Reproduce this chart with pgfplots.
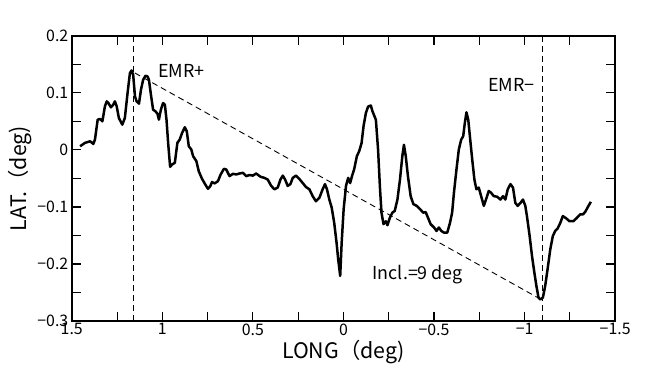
\documentclass[border=0pt]{standalone}
\usepackage{fontspec}
\setmainfont{Noto Sans CJK JP}
\usepackage{pgfplots}
\pgfplotsset{compat=1.18}

\pgfplotstableread{
x y
1.454 0.0065
1.427 0.0124
1.399 0.0152
1.381 0.0106
1.372 0.0182
1.357 0.0531
1.344 0.0543
1.331 0.0502
1.317 0.0765
1.307 0.0852
1.298 0.0823
1.284 0.0747
1.271 0.0794
1.262 0.0852
1.252 0.0765
1.240 0.0560
1.221 0.0444
1.207 0.0560
1.192 0.0997
1.179 0.1347
1.170 0.1394
1.161 0.1318
1.151 0.0939
1.142 0.0852
1.129 0.0811
1.118 0.1056
1.106 0.1231
1.093 0.1301
1.082 0.1289
1.074 0.1231
1.063 0.0969
1.051 0.0706
1.038 0.0677
1.027 0.0636
1.019 0.0531
1.008 0.0706
0.996 0.0823
0.986 0.0794
0.977 0.0531
0.968 0.0124
0.957 -0.0296
0.946 -0.0255
0.931 -0.0226
0.917 0.0124
0.904 0.0182
0.891 0.0298
0.876 0.0397
0.865 0.0327
0.854 0.0065
0.840 0.0007
0.830 -0.011
0.812 -0.0197
0.799 -0.0372
0.781 -0.0506
0.763 -0.0605
0.748 -0.0681
0.735 -0.0634
0.726 -0.0564
0.711 -0.0587
0.693 -0.0547
0.678 -0.043
0.660 -0.0331
0.647 -0.0343
0.629 -0.0459
0.610 -0.0418
0.592 -0.043
0.574 -0.0413
0.555 -0.0401
0.537 -0.0459
0.519 -0.044
0.500 -0.045
0.482 -0.0413
0.458 -0.047
0.436 -0.049
0.418 -0.052
0.399 -0.063
0.381 -0.069
0.363 -0.066
0.348 -0.052
0.335 -0.045
0.322 -0.052
0.308 -0.063
0.293 -0.060
0.280 -0.049
0.262 -0.045
0.243 -0.051
0.225 -0.058
0.207 -0.065
0.188 -0.069
0.170 -0.081
0.152 -0.090
0.133 -0.084
0.115 -0.069
0.102 -0.060
0.091 -0.069
0.078 -0.087
0.065 -0.101
0.051 -0.128
0.038 -0.163
0.029 -0.192
0.018 -0.221
0.010 -0.163
-0.001 -0.104
-0.014 -0.063
-0.026 -0.049
-0.037 -0.058
-0.047 -0.046
-0.059 -0.034
-0.074 -0.011
-0.087 -0.002
-0.100 0.012
-0.111 0.042
-0.124 0.065
-0.136 0.076
-0.151 0.078
-0.160 0.068
-0.179 0.053
-0.191 0.001
-0.202 -0.069
-0.210 -0.110
-0.221 -0.130
-0.234 -0.125
-0.243 -0.132
-0.256 -0.119
-0.270 -0.110
-0.283 -0.107
-0.298 -0.087
-0.312 -0.052
-0.325 -0.011
-0.334 0.009
-0.344 -0.011
-0.356 -0.046
-0.371 -0.081
-0.386 -0.095
-0.404 -0.098
-0.423 -0.104
-0.441 -0.110
-0.454 -0.109
-0.467 -0.119
-0.481 -0.130
-0.500 -0.136
-0.514 -0.142
-0.527 -0.136
-0.540 -0.142
-0.555 -0.145
-0.573 -0.145
-0.588 -0.128
-0.600 -0.110
-0.610 -0.075
-0.624 -0.034
-0.637 0.001
-0.650 0.018
-0.661 0.024
-0.670 0.047
-0.679 0.066
-0.689 0.053
-0.698 0.024
-0.711 -0.017
-0.723 -0.052
-0.734 -0.069
-0.747 -0.066
-0.760 -0.081
-0.775 -0.098
-0.790 -0.084
-0.802 -0.072
-0.815 -0.075
-0.830 -0.081
-0.848 -0.082
-0.867 -0.087
-0.881 -0.081
-0.894 -0.087
-0.907 -0.069
-0.922 -0.060
-0.936 -0.066
-0.949 -0.093
-0.962 -0.098
-0.977 -0.093
-0.991 -0.087
-1.004 -0.098
-1.013 -0.116
-1.028 -0.151
-1.041 -0.186
-1.054 -0.215
-1.065 -0.238
-1.077 -0.259
-1.087 -0.262
-1.101 -0.259
-1.114 -0.238
-1.127 -0.209
-1.142 -0.174
-1.156 -0.151
-1.169 -0.142
-1.182 -0.138
-1.197 -0.128
-1.211 -0.116
-1.230 -0.120
-1.248 -0.125
-1.270 -0.125
-1.289 -0.119
-1.307 -0.113
-1.322 -0.113
-1.334 -0.109
-1.353 -0.098
-1.366 -0.091
}\latdata

\begin{document}
\begin{tikzpicture}
\begin{axis}[
    at={(0,0)},
    scale only axis,
    width=545bp, height=286bp,
    x dir=reverse,
    xmin=-1.5, xmax=1.5,
    ymin=-0.3, ymax=0.2,
    xtick={-1.5,-1,-0.5,0,0.5,1,1.5},
    xticklabels={−1.5,−1,−0.5,0,0.5,1,1.5},
    ytick={-0.3,-0.2,-0.1,0,0.1,0.2},
    yticklabels={−0.3,−0.2,−0.1,0,0.1,0.2},
    minor xtick={-1.25,-0.75,-0.25,0.25,0.75,1.25},
    minor ytick={-0.25,-0.15,-0.05,0.05,0.15},
    tick align=inside,
    major tick length=9bp,
    minor tick length=9bp,
    tick style={line width=1.1bp, black},
    axis line style={line width=1.5bp},
    tick label style={font=\fontsize{16}{18}\selectfont},
    xticklabel style={yshift=1bp},
    label style={font=\fontsize{21.5}{23}\selectfont},
    xlabel={LONG（deg)},
    ylabel={LAT.（deg)},
    xlabel style={yshift=2bp},
    ylabel style={yshift=-1bp},
    clip=false,
]
    \addplot[black, line width=2.5bp, line join=round] table[x=x, y=y] {\latdata};
    % EMR markers and inclination line
    \addplot[black, line width=0.9bp, dash pattern=on 6bp off 4bp] coordinates {(1.16,-0.3) (1.16,0.2)};
    \addplot[black, line width=0.9bp, dash pattern=on 6bp off 4bp] coordinates {(-1.096,-0.3) (-1.096,0.2)};
    \addplot[black, line width=0.9bp, dash pattern=on 6bp off 4bp] coordinates {(1.152,0.135) (-1.09,-0.262)};
    \node[font=\fontsize{18}{20}\selectfont] at (axis cs:0.895,0.138) {EMR+};
    \node[font=\fontsize{18}{20}\selectfont, anchor=east] at (axis cs:-1.075,0.114) {EMR−};
    \node[font=\fontsize{18}{20}\selectfont] at (axis cs:-0.41,-0.218) {Incl.=9 deg};
\end{axis}
\path ([xshift=-72bp,yshift=-63bp]current axis.south west) rectangle ([xshift=50bp,yshift=36bp]current axis.north east);
\end{tikzpicture}
\end{document}
